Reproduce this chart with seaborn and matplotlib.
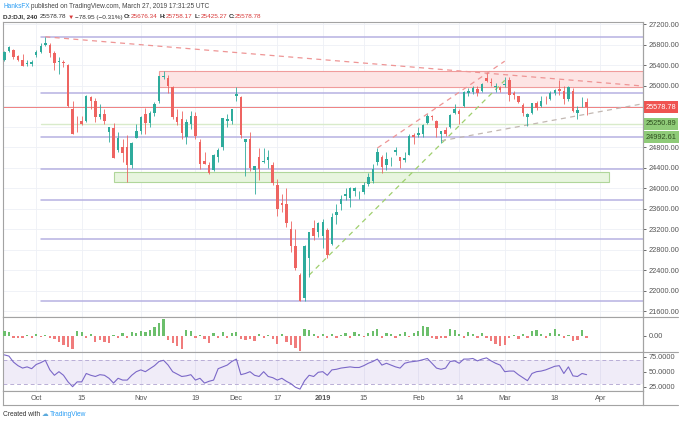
import numpy as np
import pandas as pd
import matplotlib
matplotlib.use('Agg')
import matplotlib.pyplot as plt
from matplotlib.lines import Line2D
from matplotlib.patches import Rectangle
import seaborn as sns

sns.set_style('white')
plt.rcParams['font.family'] = ['Liberation Sans', 'DejaVu Sans']

# ---- data: DJ:DJI daily candles ----
holidays = ['2018-11-22', '2018-12-05', '2018-12-25', '2019-01-01', '2019-01-21', '2019-02-18']
days = pd.bdate_range('2018-09-20', '2019-03-27', freq='C', holidays=holidays)

opens = [26500, 26680, 26700, 26580, 26500, 26420, 26420,
         26600, 26650, 26800, 26800, 26630, 26450, 26460, 26400, 25550, 25350, 25300, 25300, 25780, 25700,
         25390, 25450, 25100, 25170, 24750, 24800, 24800, 24450, 24980,
         25120, 25450, 25270, 25460, 25700, 26170, 26150, 25980, 25390, 25340, 25000, 25250, 25400, 24900,
         24520, 24450, 24350, 24600, 24800, 25300, 25300,
         25800, 25780, 24900, 24950, 24350, 24600, 24500, 24550, 24450, 24050, 23700, 23680, 23200, 22870,
         22300, 21860, 22630, 23210, 23150,
         23060, 23180, 22900, 23470, 23680, 23850, 23800, 23940, 23900, 23920, 24080, 24130, 24500, 24600,
         24450, 24540, 24700, 24600, 24550, 24650, 25030,
         25030, 25060, 25260, 25400, 25300, 25060, 25140, 25200, 25460, 25500, 25600, 25860, 25880, 25930,
         25900, 26150, 26070, 25980, 25980,
         26010, 26110, 25850, 25790, 25620, 25380, 25470, 25650, 25600, 25720, 25740, 25850, 25930, 25890,
         25730, 25900, 25470, 25650, 25676.34]
highs = [26680, 26770, 26720, 26600, 26620, 26500, 26500,
         26700, 26830, 26951, 26830, 26670, 26560, 26500, 26420, 25700, 25400, 25400, 25810, 25800, 25750,
         25640, 25550, 25200, 25260, 25100, 24950, 25040, 24900, 25240,
         25400, 25560, 25500, 25670, 26190, 26280, 26200, 26000, 25550, 25500, 25350, 25500, 25480, 24960,
         24700, 24500, 24660, 24780, 25370, 25440, 25540,
         25980, 25800, 24950, 25100, 24430, 24780, 24780, 24750, 24500, 24180, 23890, 24000, 23350, 23200,
         22340, 22880, 23140, 23380, 23330,
         23400, 23210, 23520, 23690, 23860, 24000, 24010, 24010, 23950, 24120, 24290, 24460, 24780, 24640,
         24700, 24610, 24800, 24600, 24700, 25060, 25070,
         25190, 25240, 25440, 25430, 25320, 25110, 25190, 25440, 25630, 25550, 25890, 25950, 26000, 25990,
         26050, 26241, 26150, 26050, 26000,
         26160, 26160, 25890, 25800, 25650, 25470, 25660, 25700, 25800, 25800, 25900, 25940, 26110, 25990,
         25990, 25950, 25600, 25780, 25758.17]
lows = [26480, 26650, 26520, 26470, 26380, 26380, 26390,
        26560, 26640, 26780, 26550, 26300, 26230, 26370, 25590, 25050, 25100, 25220, 25290, 25550, 25290,
        25350, 25250, 24900, 24580, 24700, 24500, 24120, 24400, 24980,
        25050, 25050, 25200, 25400, 25650, 26120, 25850, 25340, 25230, 24950, 24860, 25150, 24950, 24370,
        24460, 24270, 24330, 24500, 24750, 25200, 25250,
        25700, 24980, 24240, 24340, 23880, 24150, 24480, 24400, 24050, 23450, 23540, 23240, 22750, 22400,
        21790, 21790, 22270, 22980, 23050,
        22830, 22640, 22890, 23290, 23570, 23770, 23630, 23850, 23780, 23890, 24030, 24100, 24450, 24300,
        24350, 24430, 24650, 24400, 24500, 24650, 24850,
        24990, 25000, 25250, 25330, 25000, 24880, 25010, 25180, 25450, 25250, 25590, 25800, 25840, 25790,
        25880, 26060, 25990, 25870, 25880,
        25970, 25700, 25740, 25650, 25410, 25210, 25450, 25520, 25590, 25640, 25710, 25820, 25820, 25630,
        25700, 25490, 25350, 25590, 25425.27]
closes = [26657, 26743, 26562, 26492, 26385, 26440, 26458,
          26651, 26774, 26828, 26627, 26447, 26487, 26430, 25599, 25053, 25339, 25250, 25798, 25706, 25380,
          25444, 25317, 25191, 24583, 24984, 24688, 24443, 24874, 25116,
          25380, 25270, 25462, 25635, 26180, 26191, 25989, 25387, 25286, 25080, 25289, 25413, 25017, 24465,
          24464, 24286, 24640, 24748, 25366, 25338, 25538,
          25826, 25027, 24947, 24389, 24423, 24370, 24527, 24597, 24100, 23592, 23675, 23323, 22859, 22445,
          21792, 22878, 23138, 23062, 23327,
          23346, 22686, 23433, 23531, 23787, 23879, 24001, 23996, 23910, 24065, 24207, 24370, 24706, 24404,
          24575, 24553, 24737, 24528, 24580, 25014, 24999,
          25064, 25239, 25411, 25390, 25169, 25106, 25053, 25425, 25543, 25439, 25883, 25891, 25954, 25850,
          26031, 26091, 26057, 25985, 25916,
          26026, 25820, 25806, 25673, 25473, 25450, 25650, 25554, 25702, 25709, 25849, 25914, 25887, 25745,
          25962, 25502, 25516, 25657, 25578.78]

# oscillator histogram (lower pane 1)
osc = [50, 40, -20, -15, -20, 15, -15, 20, -10, 15, -20, -30, -60, -90, -110, -125, 50, 40, -15, 20,
       -60, -40, -60, -70, 15, -15, 30, -20, 40, 30, 50, 40, 60, 90, 130, 170, -40, -70, -100, -130,
       60, 50, -20, 15, -25, -65, 30, -15, 40, -20, 35, 45, -30, -40, -30, -50, 20, -20, 15, -30,
       -80, 20, -60, -90, -120, -150, 70, 60, 20, -20, 25, -15, 20, -20, 15, 30, -15, 40, 25, -10,
       35, 50, 70, -15, 30, 20, -20, 25, 40, -10, 30, 50, 100, 95, -20, -25, -15, -20, 70, 60,
       20, -15, 40, 20, -20, 30, -15, -50, -80, -100, -90, -20, 15, -25, 20, -15, 50, 60, 20, -15,
       30, 70, 20, -20, 15, -50, -40, 60, -15]

# RSI (lower pane 2)
rsi = [78, 76, 66, 60, 56, 58, 55, 62, 65, 69, 53, 44, 50, 44, 33, 25, 33, 33, 47, 44,
       42, 45, 44, 39, 31, 39, 36, 36, 44, 50, 53, 50, 55, 60, 67, 69, 61, 50, 46, 42,
       43, 45, 36, 39, 31, 34, 36, 55, 58, 61, 67, 71, 45, 47, 50, 44, 42, 50, 42, 40,
       36, 39, 34, 30, 24, 21, 35, 44, 42, 49, 50, 44, 53, 54, 56, 57, 58, 57, 57, 60,
       64, 67, 71, 61, 64, 61, 58, 56, 64, 66, 67, 68, 70, 72, 64, 56, 54, 56, 67, 68,
       64, 71, 71, 72, 68, 71, 73, 68, 64, 61, 50, 51, 51, 45, 40, 35, 47, 50, 51, 53,
       56, 59, 60, 47, 58, 43, 42, 47, 45]

price_ticks = list(range(21600, 27201, 400))
hidden_ticks = [25200, 25600]   # covered by the coloured price tags
date_ticks = ['2018-10-01', '2018-10-15', '2018-11-01', '2018-11-19', '2018-12-03', '2018-12-17',
              '2019-01-02', '2019-01-15', '2019-02-01', '2019-02-14', '2019-03-01', '2019-03-18', '2019-04-01']
date_labels = ['Oct', '15', 'Nov', '19', 'Dec', '17', '2019', '15', 'Feb', '14', 'Mar', '18', 'Apr']

# user drawings
levels = [26940, 25845, 24992.61, 24365, 23766, 23005, 21801]
level_start = '2018-10-02'
green_level = 25250.89
last_price = 25578.78
red_zone = ('2018-11-07', 25965, 26283)
green_zone = ('2018-10-24', '2019-04-03', 24111, 24318)
desc_ray = ('2018-10-03', 26950, '2019-02-25', 26241)
chan_top = ('2019-01-18', 24780, '2019-03-01', 26475)
chan_bot = ('2018-12-27', 22300, '2019-03-01', 26100)
support_ray = ('2019-02-08', 24920, '2019-03-08', 25230)


def pos(d):
    return int(np.busday_count('2018-09-20', d, holidays=holidays))


W, H = 680, 424
UP, DN = '#2eab9c', '#ee6461'
GRID = '#eef0f6'
EDGE = '#a3a3a3'
TXT = '#555555'
XL, XR = -0.3, 140.4


def rect(x0, y0, x1, y1):
    return [x0 / W, 1 - y1 / H, (x1 - x0) / W, (y1 - y0) / H]


fig = plt.figure(figsize=(6.8, 4.24), dpi=100)
ax = fig.add_axes(rect(3, 21.7, 643, 316.7))
axo = fig.add_axes(rect(3, 316.7, 643, 352))
axr = fig.add_axes(rect(3, 352, 643, 391))
axd = fig.add_axes(rect(3, 391, 643, 405))

x = np.arange(len(days))
o, h, l, c = map(np.array, (opens, highs, lows, closes))
tick_x = [pos(d) for d in date_ticks]

for a in (ax, axo, axr, axd):
    a.set_xlim(XL, XR)
    a.set_facecolor('white')
    for s in a.spines.values():
        s.set_color(EDGE)
        s.set_linewidth(0.8)
    a.tick_params(axis='x', bottom=False, labelbottom=False)
for a in (ax, axo, axr):
    for t in tick_x:
        a.axvline(t, color=GRID, lw=0.6, zorder=0)

# ---- main pane ----
ax.set_ylim(21489, 27245)
for p in price_ticks:
    ax.axhline(p, color=GRID, lw=0.6, zorder=0)

ax.add_patch(Rectangle((pos(red_zone[0]), red_zone[1]), XR - pos(red_zone[0]), red_zone[2] - red_zone[1],
                       facecolor='#fde4e4', edgecolor='#f09c9c', lw=0.8, zorder=1))
ax.add_patch(Rectangle((pos(green_zone[0]), green_zone[2]), pos(green_zone[1]) - pos(green_zone[0]),
                       green_zone[3] - green_zone[2],
                       facecolor='#e8f5df', edgecolor='#b0d69a', lw=0.8, zorder=1))
for lv in levels:
    ax.plot([pos(level_start), XR], [lv, lv], color='#b6b1e2', lw=1.1, zorder=1.5)
ax.plot([pos(level_start), XR], [green_level, green_level], color='#d9ebcb', lw=1.0, zorder=1.5)
ax.plot([XL, XR], [last_price, last_price], color='#ec6a6a', lw=0.7, alpha=0.85, zorder=1.6)


def ray(d1, p1, d2, p2, extend, color):
    x1, x2 = pos(d1), pos(d2)
    xe = XR if extend else x2
    ye = p1 + (p2 - p1) / (x2 - x1) * (xe - x1)
    ax.plot([x1, xe], [p1, ye], color=color, lw=0.9, dashes=(4, 3.5), zorder=2)


ray(*desc_ray, True, '#ee9595')
ray(*chan_top, False, '#ee9595')
ray(*chan_bot, False, '#9fcf6e')
ray(*support_ray, True, '#c2b8b2')

cols = np.where(c >= o, UP, DN)
ax.vlines(x, l, h, colors=cols, lw=0.6, zorder=3)
ax.bar(x, np.maximum(np.abs(c - o), 12), bottom=np.minimum(o, c), width=0.55, color=cols, lw=0, zorder=3)

ax.yaxis.tick_right()
ax.set_yticks(price_ticks)
ax.set_yticklabels(['' if p in hidden_ticks else f'{p:.2f}' for p in price_ticks])
ax.tick_params(axis='y', labelsize=5.3, colors=TXT, length=2.5, width=0.6, pad=1.5)

for val, bg, fg in [(last_price, '#ef5350', 'white'), (green_level, '#8fcb78', '#2f4f1f'),
                    (24992.61, '#8fcb78', '#2f4f1f')]:
    ax.text(1.004, val, f'{val:.2f}', transform=ax.get_yaxis_transform(), fontsize=5.3, color=fg,
            ha='left', va='center', zorder=6, clip_on=False,
            bbox=dict(boxstyle='square,pad=0.3', facecolor=bg, edgecolor='none'))

# ---- oscillator pane ----
axo.set_ylim(-160, 193)
osc_a = np.array(osc)
axo.bar(x, osc_a, width=0.5, color=np.where(osc_a >= 0, '#6cbf6c', '#f07c7c'), lw=0, zorder=3)
axo.yaxis.tick_right()
axo.set_yticks([0])
axo.set_yticklabels(['0.00'])
axo.tick_params(axis='y', labelsize=5.3, colors=TXT, length=2.5, width=0.6, pad=1.5)

# ---- RSI pane ----
axr.set_ylim(17.8, 82.8)
axr.axhspan(30, 70, color='#7e57c2', alpha=0.11, lw=0, zorder=1)
for lv in (30, 70):
    axr.axhline(lv, color='#b9aed6', lw=0.7, dashes=(4, 3), zorder=2)
sns.lineplot(x=x, y=rsi, ax=axr, color='#7b68c8', lw=0.8, zorder=4)
axr.yaxis.tick_right()
axr.set_yticks([25, 50, 75])
axr.set_yticklabels(['25.0000', '50.0000', '75.0000'])
axr.tick_params(axis='y', labelsize=5.3, colors=TXT, length=2.5, width=0.6, pad=1.5)
axr.set_ylabel('')

# ---- date strip ----
axd.set_ylim(0, 1)
axd.set_yticks([])
for t, lab in zip(tick_x, date_labels):
    axd.text(t, 0.45, lab, ha='center', va='center', fontsize=5.3, color=TXT,
             fontweight='bold' if lab == '2019' else 'normal')

# frame pieces of the price scale column
for yy in (316.7, 352, 405):
    fig.add_artist(Line2D([643 / W, 678 / W], [1 - yy / H, 1 - yy / H], color=EDGE, lw=0.8))
fig.add_artist(Line2D([643 / W, 643 / W], [1 - 21.7 / H, 1 - 405 / H], color=EDGE, lw=0.8))

# ---- header / footer text ----
fig.canvas.draw()
rend = fig.canvas.get_renderer()


def put_parts(px, py, parts, size):
    for s, col, wt, gap in parts:
        t = fig.text(px / W, 1 - py / H, s, color=col, fontsize=size, fontweight=wt, ha='left', va='center')
        px += t.get_window_extent(rend).width + gap


DARK = '#333333'
RED = '#d83a3a'
put_parts(3, 6.5, [('HanksFX', '#2a9df4', 'normal', 1.4),
                   ('published on TradingView.com, March 27, 2019 17:31:25 UTC', '#444444', 'normal', 0)], 4.7)
put_parts(3, 17, [('DJ:DJI, 240', DARK, 'bold', 2.2), ('25578.78', DARK, 'normal', 1.3),
                  ('\u25bc', RED, 'normal', 1.3), ('\u221278.95 (\u22120.31%)', DARK, 'normal', 1.6),
                  ('O:', DARK, 'bold', 0), ('25676.34', RED, 'normal', 1.6),
                  ('H:', DARK, 'bold', 0), ('25758.17', RED, 'normal', 1.6),
                  ('L:', DARK, 'bold', 0), ('25425.27', RED, 'normal', 1.6),
                  ('C:', DARK, 'bold', 0), ('25578.78', RED, 'normal', 0)], 4.6)
put_parts(3, 415, [('Created with', DARK, 'normal', 2), ('\u2601', '#5aa9dc', 'normal', 1),
                   ('TradingView', '#2a9df4', 'normal', 0)], 4.8)

fig.savefig('out.png', dpi=100, facecolor='white')
